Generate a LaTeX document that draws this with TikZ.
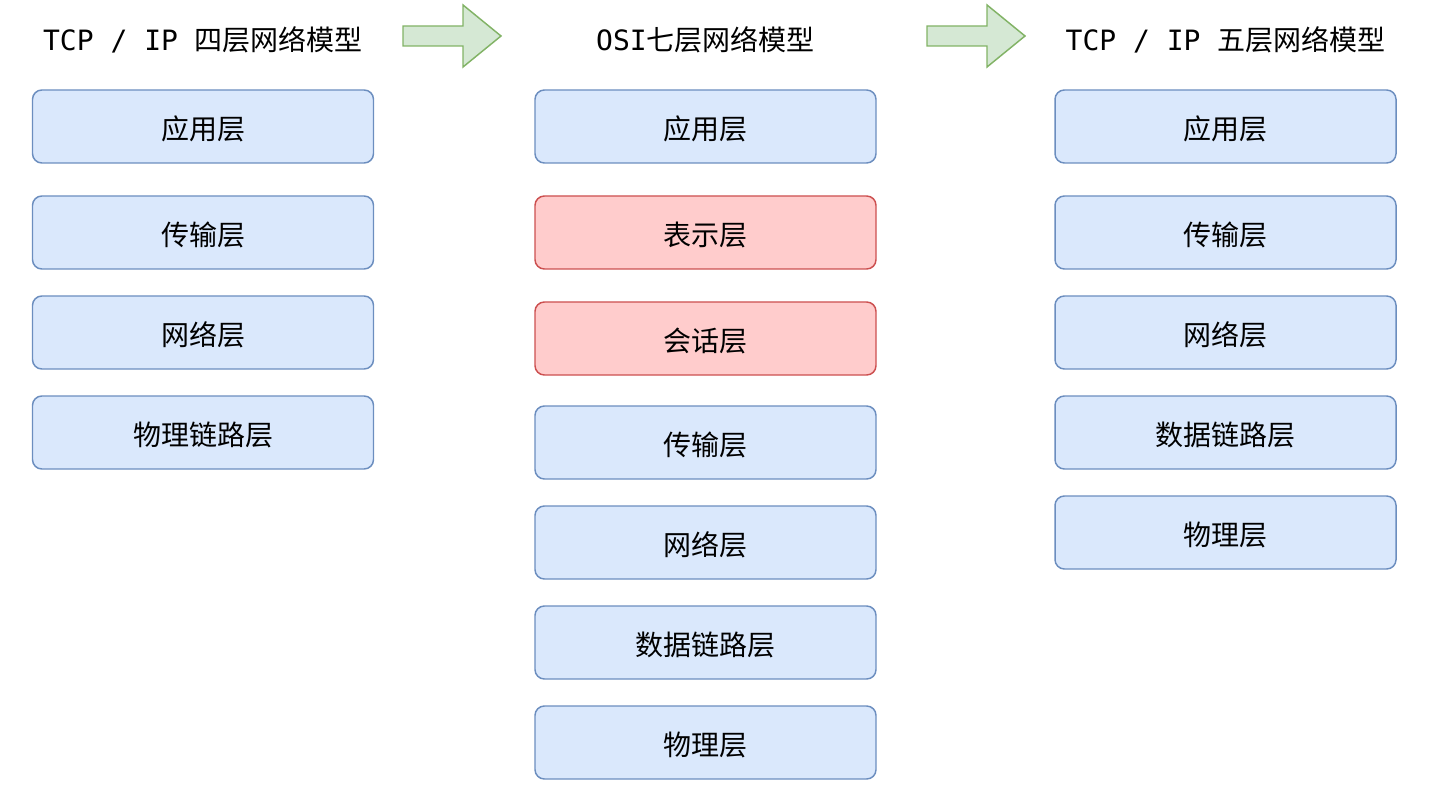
\documentclass[tikz,border=0pt]{standalone}
\usepackage{fontspec}
\newfontfamily\cjk{Noto Sans CJK SC}
\newfontfamily\mono{DejaVu Sans Mono}
\definecolor{bluefill}{HTML}{DAE8FC}
\definecolor{bluedraw}{HTML}{6C8EBF}
\definecolor{redfill}{HTML}{FFCCCC}
\definecolor{reddraw}{HTML}{CC5050}
\definecolor{greenfill}{HTML}{D5E8D4}
\definecolor{greendraw}{HTML}{82B366}
\tikzset{
  layer/.style={draw=bluedraw, fill=bluefill, line width=1.1pt, rounded corners=7pt,
    minimum width=255.75pt, minimum height=54.75pt, inner sep=0pt,
    text depth=0pt, text height=0pt,
    font=\fontsize{21pt}{24pt}\selectfont\cjk},
  redlayer/.style={layer, draw=reddraw, fill=redfill},
  title/.style={inner sep=0pt, font=\fontsize{21pt}{24pt}\selectfont},
  bigarrow/.style={draw=greendraw, fill=greenfill, line width=1.1pt, line join=miter}
}
\newcommand{\lbl}[1]{\raisebox{-0.47em}[0pt][0pt]{#1}}
\begin{document}
\begin{tikzpicture}[x=0.75pt, y=-0.75pt]
\useasboundingbox (0,0) rectangle (1430,805);
% titles
\node[title] (t1) at (203,40) {{\mono TCP / IP }{\cjk 四层网络模型}};
\node[title] (t2) at (705.5,40) {{\mono OSI}{\cjk 七层网络模型}};
\node[title] (t3) at (1225.5,40) {{\mono TCP / IP }{\cjk 五层网络模型}};
% arrows
\draw[bigarrow] (403,26) -- (463,26) -- (463,5) -- (501,36) -- (463,67) -- (463,46) -- (403,46) -- cycle;
\draw[bigarrow] (927,26) -- (987,26) -- (987,5) -- (1025,36) -- (987,67) -- (987,46) -- (927,46) -- cycle;
% left column
\node[layer] (l1) at (203,126.5) {\lbl{应用层}};
\node[layer] (l2) at (203,232.5) {\lbl{传输层}};
\node[layer] (l3) at (203,332.5) {\lbl{网络层}};
\node[layer] (l4) at (203,432.5) {\lbl{物理链路层}};
% middle column
\node[layer] (m1) at (705.5,126.5) {\lbl{应用层}};
\node[redlayer] (m2) at (705.5,232.5) {\lbl{表示层}};
\node[redlayer] (m3) at (705.5,338.5) {\lbl{会话层}};
\node[layer] (m4) at (705.5,442.5) {\lbl{传输层}};
\node[layer] (m5) at (705.5,542.5) {\lbl{网络层}};
\node[layer] (m6) at (705.5,642.5) {\lbl{数据链路层}};
\node[layer] (m7) at (705.5,742.5) {\lbl{物理层}};
% right column
\node[layer] (r1) at (1225.5,126.5) {\lbl{应用层}};
\node[layer] (r2) at (1225.5,232.5) {\lbl{传输层}};
\node[layer] (r3) at (1225.5,332.5) {\lbl{网络层}};
\node[layer] (r4) at (1225.5,432.5) {\lbl{数据链路层}};
\node[layer] (r5) at (1225.5,532.5) {\lbl{物理层}};
\end{tikzpicture}
\end{document}
